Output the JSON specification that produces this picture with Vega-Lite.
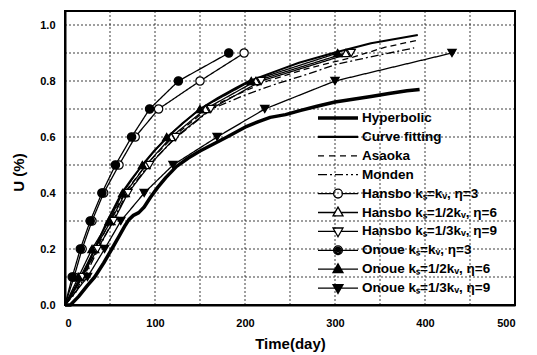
{
  "$schema": "https://vega.github.io/schema/vega-lite/v6.json",
  "width": 450,
  "height": 294,
  "autosize": {"type": "none"},
  "padding": {"left": 65, "top": 11, "right": 22, "bottom": 50},
  "background": "white",
  "config": {
    "font": "Liberation Sans",
    "view": {"stroke": "black", "strokeWidth": 2},
    "axis": {
      "domainColor": "black",
      "domainWidth": 2,
      "ticks": false,
      "grid": false,
      "labelFont": "Liberation Sans",
      "labelFontWeight": "bold",
      "labelFontSize": 11,
      "labelColor": "black",
      "titleFont": "Liberation Sans",
      "titleFontWeight": "bold",
      "titleFontSize": 15,
      "titleColor": "black"
    }
  },
  "datasets": {
    "curves": [
      {"s": "Hyperbolic", "d": 0, "u": 0},
      {"s": "Hyperbolic", "d": 6, "u": 0},
      {"s": "Hyperbolic", "d": 15, "u": 0.03},
      {"s": "Hyperbolic", "d": 25, "u": 0.07},
      {"s": "Hyperbolic", "d": 33, "u": 0.1},
      {"s": "Hyperbolic", "d": 43, "u": 0.15},
      {"s": "Hyperbolic", "d": 52, "u": 0.2},
      {"s": "Hyperbolic", "d": 60, "u": 0.245},
      {"s": "Hyperbolic", "d": 67, "u": 0.285},
      {"s": "Hyperbolic", "d": 71, "u": 0.305},
      {"s": "Hyperbolic", "d": 76, "u": 0.32},
      {"s": "Hyperbolic", "d": 82, "u": 0.33},
      {"s": "Hyperbolic", "d": 88, "u": 0.35},
      {"s": "Hyperbolic", "d": 95, "u": 0.385},
      {"s": "Hyperbolic", "d": 103, "u": 0.42},
      {"s": "Hyperbolic", "d": 112, "u": 0.455},
      {"s": "Hyperbolic", "d": 124, "u": 0.495},
      {"s": "Hyperbolic", "d": 137, "u": 0.525},
      {"s": "Hyperbolic", "d": 150, "u": 0.55},
      {"s": "Hyperbolic", "d": 165, "u": 0.575},
      {"s": "Hyperbolic", "d": 180, "u": 0.6},
      {"s": "Hyperbolic", "d": 200, "u": 0.635},
      {"s": "Hyperbolic", "d": 215, "u": 0.655},
      {"s": "Hyperbolic", "d": 228, "u": 0.67},
      {"s": "Hyperbolic", "d": 245, "u": 0.68},
      {"s": "Hyperbolic", "d": 262, "u": 0.695},
      {"s": "Hyperbolic", "d": 280, "u": 0.71},
      {"s": "Hyperbolic", "d": 300, "u": 0.725},
      {"s": "Hyperbolic", "d": 320, "u": 0.735},
      {"s": "Hyperbolic", "d": 340, "u": 0.745},
      {"s": "Hyperbolic", "d": 360, "u": 0.755},
      {"s": "Hyperbolic", "d": 380, "u": 0.765},
      {"s": "Hyperbolic", "d": 394, "u": 0.77},

      {"s": "Curve fitting", "d": 0, "u": 0},
      {"s": "Curve fitting", "d": 8, "u": 0.04},
      {"s": "Curve fitting", "d": 19, "u": 0.1},
      {"s": "Curve fitting", "d": 26, "u": 0.15},
      {"s": "Curve fitting", "d": 33, "u": 0.2},
      {"s": "Curve fitting", "d": 40, "u": 0.25},
      {"s": "Curve fitting", "d": 47, "u": 0.3},
      {"s": "Curve fitting", "d": 55, "u": 0.35},
      {"s": "Curve fitting", "d": 63, "u": 0.4},
      {"s": "Curve fitting", "d": 74, "u": 0.45},
      {"s": "Curve fitting", "d": 86, "u": 0.5},
      {"s": "Curve fitting", "d": 99, "u": 0.55},
      {"s": "Curve fitting", "d": 114, "u": 0.6},
      {"s": "Curve fitting", "d": 131, "u": 0.65},
      {"s": "Curve fitting", "d": 150, "u": 0.7},
      {"s": "Curve fitting", "d": 170, "u": 0.74},
      {"s": "Curve fitting", "d": 190, "u": 0.775},
      {"s": "Curve fitting", "d": 205, "u": 0.8},
      {"s": "Curve fitting", "d": 230, "u": 0.83},
      {"s": "Curve fitting", "d": 260, "u": 0.865},
      {"s": "Curve fitting", "d": 298, "u": 0.9},
      {"s": "Curve fitting", "d": 340, "u": 0.935},
      {"s": "Curve fitting", "d": 392, "u": 0.964},

      {"s": "Asaoka", "d": 0, "u": 0},
      {"s": "Asaoka", "d": 10, "u": 0.04},
      {"s": "Asaoka", "d": 21, "u": 0.1},
      {"s": "Asaoka", "d": 35, "u": 0.2},
      {"s": "Asaoka", "d": 50, "u": 0.3},
      {"s": "Asaoka", "d": 66, "u": 0.4},
      {"s": "Asaoka", "d": 90, "u": 0.5},
      {"s": "Asaoka", "d": 120, "u": 0.6},
      {"s": "Asaoka", "d": 158, "u": 0.7},
      {"s": "Asaoka", "d": 190, "u": 0.75},
      {"s": "Asaoka", "d": 225, "u": 0.8},
      {"s": "Asaoka", "d": 270, "u": 0.845},
      {"s": "Asaoka", "d": 320, "u": 0.885},
      {"s": "Asaoka", "d": 355, "u": 0.92},
      {"s": "Asaoka", "d": 392, "u": 0.946},

      {"s": "Monden", "d": 0, "u": 0},
      {"s": "Monden", "d": 11, "u": 0.04},
      {"s": "Monden", "d": 22, "u": 0.1},
      {"s": "Monden", "d": 37, "u": 0.2},
      {"s": "Monden", "d": 53, "u": 0.3},
      {"s": "Monden", "d": 69, "u": 0.4},
      {"s": "Monden", "d": 93, "u": 0.5},
      {"s": "Monden", "d": 124, "u": 0.6},
      {"s": "Monden", "d": 163, "u": 0.7},
      {"s": "Monden", "d": 200, "u": 0.75},
      {"s": "Monden", "d": 235, "u": 0.79},
      {"s": "Monden", "d": 270, "u": 0.825},
      {"s": "Monden", "d": 302, "u": 0.86},
      {"s": "Monden", "d": 345, "u": 0.89},
      {"s": "Monden", "d": 388, "u": 0.918},

      {"s": "Hansbo kₛ=kᵥ, η=3", "d": 0, "u": 0},
      {"s": "Hansbo kₛ=kᵥ, η=3", "d": 10, "u": 0.1},
      {"s": "Hansbo kₛ=kᵥ, η=3", "d": 19, "u": 0.2},
      {"s": "Hansbo kₛ=kᵥ, η=3", "d": 30, "u": 0.3},
      {"s": "Hansbo kₛ=kᵥ, η=3", "d": 43, "u": 0.4},
      {"s": "Hansbo kₛ=kᵥ, η=3", "d": 60, "u": 0.5},
      {"s": "Hansbo kₛ=kᵥ, η=3", "d": 78, "u": 0.6},
      {"s": "Hansbo kₛ=kᵥ, η=3", "d": 104, "u": 0.7},
      {"s": "Hansbo kₛ=kᵥ, η=3", "d": 150, "u": 0.8},
      {"s": "Hansbo kₛ=kᵥ, η=3", "d": 199, "u": 0.9},

      {"s": "Hansbo kₛ=1/2kᵥ, η=6", "d": 0, "u": 0},
      {"s": "Hansbo kₛ=1/2kᵥ, η=6", "d": 17, "u": 0.1},
      {"s": "Hansbo kₛ=1/2kᵥ, η=6", "d": 33, "u": 0.2},
      {"s": "Hansbo kₛ=1/2kᵥ, η=6", "d": 51, "u": 0.3},
      {"s": "Hansbo kₛ=1/2kᵥ, η=6", "d": 67, "u": 0.4},
      {"s": "Hansbo kₛ=1/2kᵥ, η=6", "d": 90, "u": 0.5},
      {"s": "Hansbo kₛ=1/2kᵥ, η=6", "d": 118, "u": 0.6},
      {"s": "Hansbo kₛ=1/2kᵥ, η=6", "d": 156, "u": 0.7},
      {"s": "Hansbo kₛ=1/2kᵥ, η=6", "d": 212, "u": 0.8},
      {"s": "Hansbo kₛ=1/2kᵥ, η=6", "d": 312, "u": 0.9},

      {"s": "Hansbo kₛ=1/3kᵥ, η=9", "d": 0, "u": 0},
      {"s": "Hansbo kₛ=1/3kᵥ, η=9", "d": 19, "u": 0.1},
      {"s": "Hansbo kₛ=1/3kᵥ, η=9", "d": 36, "u": 0.2},
      {"s": "Hansbo kₛ=1/3kᵥ, η=9", "d": 54, "u": 0.3},
      {"s": "Hansbo kₛ=1/3kᵥ, η=9", "d": 70, "u": 0.4},
      {"s": "Hansbo kₛ=1/3kᵥ, η=9", "d": 94, "u": 0.5},
      {"s": "Hansbo kₛ=1/3kᵥ, η=9", "d": 123, "u": 0.6},
      {"s": "Hansbo kₛ=1/3kᵥ, η=9", "d": 162, "u": 0.7},
      {"s": "Hansbo kₛ=1/3kᵥ, η=9", "d": 218, "u": 0.8},
      {"s": "Hansbo kₛ=1/3kᵥ, η=9", "d": 318, "u": 0.9},

      {"s": "Onoue kₛ=kᵥ, η=3", "d": 0, "u": 0},
      {"s": "Onoue kₛ=kᵥ, η=3", "d": 8, "u": 0.1},
      {"s": "Onoue kₛ=kᵥ, η=3", "d": 17, "u": 0.2},
      {"s": "Onoue kₛ=kᵥ, η=3", "d": 28, "u": 0.3},
      {"s": "Onoue kₛ=kᵥ, η=3", "d": 41, "u": 0.4},
      {"s": "Onoue kₛ=kᵥ, η=3", "d": 56, "u": 0.5},
      {"s": "Onoue kₛ=kᵥ, η=3", "d": 74, "u": 0.6},
      {"s": "Onoue kₛ=kᵥ, η=3", "d": 94, "u": 0.7},
      {"s": "Onoue kₛ=kᵥ, η=3", "d": 126, "u": 0.8},
      {"s": "Onoue kₛ=kᵥ, η=3", "d": 182, "u": 0.9},

      {"s": "Onoue kₛ=1/2kᵥ, η=6", "d": 0, "u": 0},
      {"s": "Onoue kₛ=1/2kᵥ, η=6", "d": 15, "u": 0.1},
      {"s": "Onoue kₛ=1/2kᵥ, η=6", "d": 30, "u": 0.2},
      {"s": "Onoue kₛ=1/2kᵥ, η=6", "d": 49, "u": 0.3},
      {"s": "Onoue kₛ=1/2kᵥ, η=6", "d": 64, "u": 0.4},
      {"s": "Onoue kₛ=1/2kᵥ, η=6", "d": 86, "u": 0.5},
      {"s": "Onoue kₛ=1/2kᵥ, η=6", "d": 113, "u": 0.6},
      {"s": "Onoue kₛ=1/2kᵥ, η=6", "d": 150, "u": 0.7},
      {"s": "Onoue kₛ=1/2kᵥ, η=6", "d": 207, "u": 0.8},
      {"s": "Onoue kₛ=1/2kᵥ, η=6", "d": 303, "u": 0.9},

      {"s": "Onoue kₛ=1/3kᵥ, η=9", "d": 0, "u": 0},
      {"s": "Onoue kₛ=1/3kᵥ, η=9", "d": 25, "u": 0.1},
      {"s": "Onoue kₛ=1/3kᵥ, η=9", "d": 44, "u": 0.2},
      {"s": "Onoue kₛ=1/3kᵥ, η=9", "d": 62, "u": 0.3},
      {"s": "Onoue kₛ=1/3kᵥ, η=9", "d": 88, "u": 0.4},
      {"s": "Onoue kₛ=1/3kᵥ, η=9", "d": 120, "u": 0.5},
      {"s": "Onoue kₛ=1/3kᵥ, η=9", "d": 169, "u": 0.6},
      {"s": "Onoue kₛ=1/3kᵥ, η=9", "d": 222, "u": 0.7},
      {"s": "Onoue kₛ=1/3kᵥ, η=9", "d": 300, "u": 0.8},
      {"s": "Onoue kₛ=1/3kᵥ, η=9", "d": 430, "u": 0.9}
    ],
    "gridDays": [
      {"g": 50}, {"g": 100}, {"g": 150}, {"g": 200}, {"g": 250},
      {"g": 300}, {"g": 350}, {"g": 400}, {"g": 450}
    ],
    "gridU": [
      {"g": 0.1}, {"g": 0.2}, {"g": 0.3}, {"g": 0.4}, {"g": 0.5},
      {"g": 0.6}, {"g": 0.7}, {"g": 0.8}, {"g": 0.9}, {"g": 1.0}
    ]
  },
  "resolve": {"scale": {"shape": "independent"}},
  "layer": [
    {
      "data": {"name": "gridDays"},
      "mark": {"type": "rule", "stroke": "black", "strokeWidth": 0.9, "strokeDash": [2, 2], "opacity": 0.85},
      "encoding": {
        "x": {
          "field": "g",
          "type": "quantitative",
          "scale": {"domain": [0, 500], "nice": false},
          "axis": {
            "values": [0, 100, 200, 300, 400, 500],
            "labelPadding": 12,
            "title": "Time(day)",
            "titleY": 38,
            "titleBaseline": "middle"
          }
        }
      }
    },
    {
      "data": {"name": "gridU"},
      "mark": {"type": "rule", "stroke": "black", "strokeWidth": 0.9, "strokeDash": [2, 2], "opacity": 0.85},
      "encoding": {
        "y": {
          "field": "g",
          "type": "quantitative",
          "scale": {"domain": [0, 1.05], "nice": false},
          "axis": {
            "values": [0, 0.1, 0.2, 0.3, 0.4, 0.5, 0.6, 0.7, 0.8, 0.9, 1.0],
            "format": ".1f",
            "labelPadding": 10,
            "title": "U (%)",
            "titleX": -47,
            "titleY": 161,
            "titleAngle": -90,
            "titleAlign": "center",
            "titleBaseline": "middle"
          }
        }
      }
    },
    {
      "data": {"name": "curves"},
      "transform": [{"filter": "datum.s === 'Hyperbolic'"}],
      "mark": {"type": "line", "stroke": "black", "strokeWidth": 3.5, "strokeCap": "butt", "strokeJoin": "round"},
      "encoding": {
        "x": {
          "field": "d",
          "type": "quantitative",
          "scale": {"domain": [0, 500], "nice": false},
          "axis": {
            "values": [0, 100, 200, 300, 400, 500],
            "labelPadding": 12,
            "title": "Time(day)",
            "titleY": 38,
            "titleBaseline": "middle"
          }
        },
        "y": {
          "field": "u",
          "type": "quantitative",
          "scale": {"domain": [0, 1.05], "nice": false},
          "axis": {
            "values": [0, 0.1, 0.2, 0.3, 0.4, 0.5, 0.6, 0.7, 0.8, 0.9, 1.0],
            "format": ".1f",
            "labelPadding": 10,
            "title": "U (%)",
            "titleX": -47,
            "titleY": 161,
            "titleAngle": -90,
            "titleAlign": "center",
            "titleBaseline": "middle"
          }
        }
      }
    },
    {
      "data": {"name": "curves"},
      "transform": [{"filter": "datum.s === 'Curve fitting'"}],
      "mark": {"type": "line", "stroke": "black", "strokeWidth": 2, "strokeJoin": "round"},
      "encoding": {
        "x": {"field": "d", "type": "quantitative", "title": "Time(day)"},
        "y": {"field": "u", "type": "quantitative", "title": "U (%)"}
      }
    },
    {
      "data": {"name": "curves"},
      "transform": [{"filter": "datum.s !== 'Hyperbolic' && datum.s !== 'Curve fitting'"}],
      "mark": {"type": "line", "stroke": "black", "strokeWidth": 1.3, "strokeJoin": "round"},
      "encoding": {
        "x": {"field": "d", "type": "quantitative", "title": "Time(day)"},
        "y": {"field": "u", "type": "quantitative", "title": "U (%)"},
        "strokeDash": {
          "field": "s",
          "type": "nominal",
          "scale": {
            "domain": ["Asaoka", "Monden", "Hansbo kₛ=kᵥ, η=3", "Hansbo kₛ=1/2kᵥ, η=6", "Hansbo kₛ=1/3kᵥ, η=9", "Onoue kₛ=kᵥ, η=3", "Onoue kₛ=1/2kᵥ, η=6", "Onoue kₛ=1/3kᵥ, η=9"],
            "range": [[6, 4], [8, 3, 2, 3], [1, 0], [1, 0], [1, 0], [1, 0], [1, 0], [1, 0]]
          },
          "legend": null
        }
      }
    },
    {
      "data": {"name": "curves"},
      "transform": [{"filter": "indexof(datum.s, 'Hansbo') === 0 && datum.u > 0"}],
      "mark": {"type": "point", "filled": true, "fill": "white", "stroke": "black", "strokeWidth": 1.2, "size": 70, "opacity": 1},
      "encoding": {
        "x": {"field": "d", "type": "quantitative", "title": "Time(day)"},
        "y": {"field": "u", "type": "quantitative", "title": "U (%)"},
        "shape": {
          "field": "s",
          "type": "nominal",
          "scale": {
            "domain": ["Hansbo kₛ=kᵥ, η=3", "Hansbo kₛ=1/2kᵥ, η=6", "Hansbo kₛ=1/3kᵥ, η=9"],
            "range": ["circle", "triangle-up", "triangle-down"]
          },
          "legend": null
        }
      }
    },
    {
      "data": {"name": "curves"},
      "transform": [{"filter": "indexof(datum.s, 'Onoue') === 0 && datum.u > 0"}],
      "mark": {"type": "point", "filled": true, "fill": "black", "stroke": "black", "strokeWidth": 1.2, "size": 70, "opacity": 1},
      "encoding": {
        "x": {"field": "d", "type": "quantitative", "title": "Time(day)"},
        "y": {"field": "u", "type": "quantitative", "title": "U (%)"},
        "shape": {
          "field": "s",
          "type": "nominal",
          "scale": {
            "domain": ["Onoue kₛ=kᵥ, η=3", "Onoue kₛ=1/2kᵥ, η=6", "Onoue kₛ=1/3kᵥ, η=9"],
            "range": ["circle", "triangle-up", "triangle-down"]
          },
          "legend": null
        }
      }
    },
    {
      "data": {"name": "curves"},
      "transform": [{"filter": "false"}],
      "mark": {"type": "point", "filled": false, "stroke": "black", "strokeWidth": 1.3, "size": 1600, "opacity": 1},
      "encoding": {
        "x": {"field": "d", "type": "quantitative", "title": "Time(day)"},
        "y": {"field": "u", "type": "quantitative", "title": "U (%)"},
        "shape": {
          "field": "s",
          "type": "nominal",
          "scale": {
            "domain": ["Hyperbolic", "Curve fitting", "Asaoka", "Monden", "Hansbo kₛ=kᵥ, η=3", "Hansbo kₛ=1/2kᵥ, η=6", "Hansbo kₛ=1/3kᵥ, η=9", "Onoue kₛ=kᵥ, η=3", "Onoue kₛ=1/2kᵥ, η=6", "Onoue kₛ=1/3kᵥ, η=9"],
            "range": [
              "M-1,-0.05H1M-1,0H1M-1,0.05H1",
              "M-1,-0.02H1M-1,0.02H1",
              "M-1,0H-0.7M-0.45,0H-0.15M0.1,0H0.4M0.65,0H0.95",
              "M-1,0H-0.55M-0.4,0H-0.3M-0.15,0H0.25M0.4,0H0.5M0.65,0H0.75M0.9,0H1",
              "M-1,0H-0.22M0.22,0H1M0.22,0A0.22,0.22,0,1,1,-0.22,0A0.22,0.22,0,1,1,0.22,0",
              "M-1,0H-0.153M0.153,0H1M0,-0.27L0.25,0.17L-0.25,0.17Z",
              "M-1,0H-0.153M0.153,0H1M0,0.27L0.25,-0.17L-0.25,-0.17Z",
              "M-1,0H1M0.22,0A0.22,0.22,0,1,1,-0.22,0A0.22,0.22,0,1,1,0.22,0M0.15,0A0.15,0.15,0,1,1,-0.15,0A0.15,0.15,0,1,1,0.15,0M0.08,0A0.08,0.08,0,1,1,-0.08,0A0.08,0.08,0,1,1,0.08,0M0.02,0A0.02,0.02,0,1,1,-0.02,0A0.02,0.02,0,1,1,0.02,0",
              "M-1,0H1M0,-0.27L0.25,0.17L-0.25,0.17ZM0,-0.153L0.15,0.111L-0.15,0.111ZM0,-0.036L0.05,0.052L-0.05,0.052Z",
              "M-1,0H1M0,0.27L0.25,-0.17L-0.25,-0.17ZM0,0.153L0.15,-0.111L-0.15,-0.111ZM0,0.036L0.05,-0.052L-0.05,-0.052Z"
            ]
          },
          "legend": {
            "title": null,
            "orient": "none",
            "legendX": 252,
            "legendY": 98.5,
            "padding": 0,
            "symbolSize": 1600,
            "symbolStrokeWidth": 1.3,
            "symbolStrokeColor": "black",
            "symbolFillColor": "transparent",
            "clipHeight": 17,
            "rowPadding": 1.9,
            "labelOffset": 3,
            "labelFont": "Liberation Sans",
            "labelFontWeight": "bold",
            "labelFontSize": 13.5,
            "labelColor": "black",
            "labelLimit": 300
          }
        }
      }
    }
  ]
}
